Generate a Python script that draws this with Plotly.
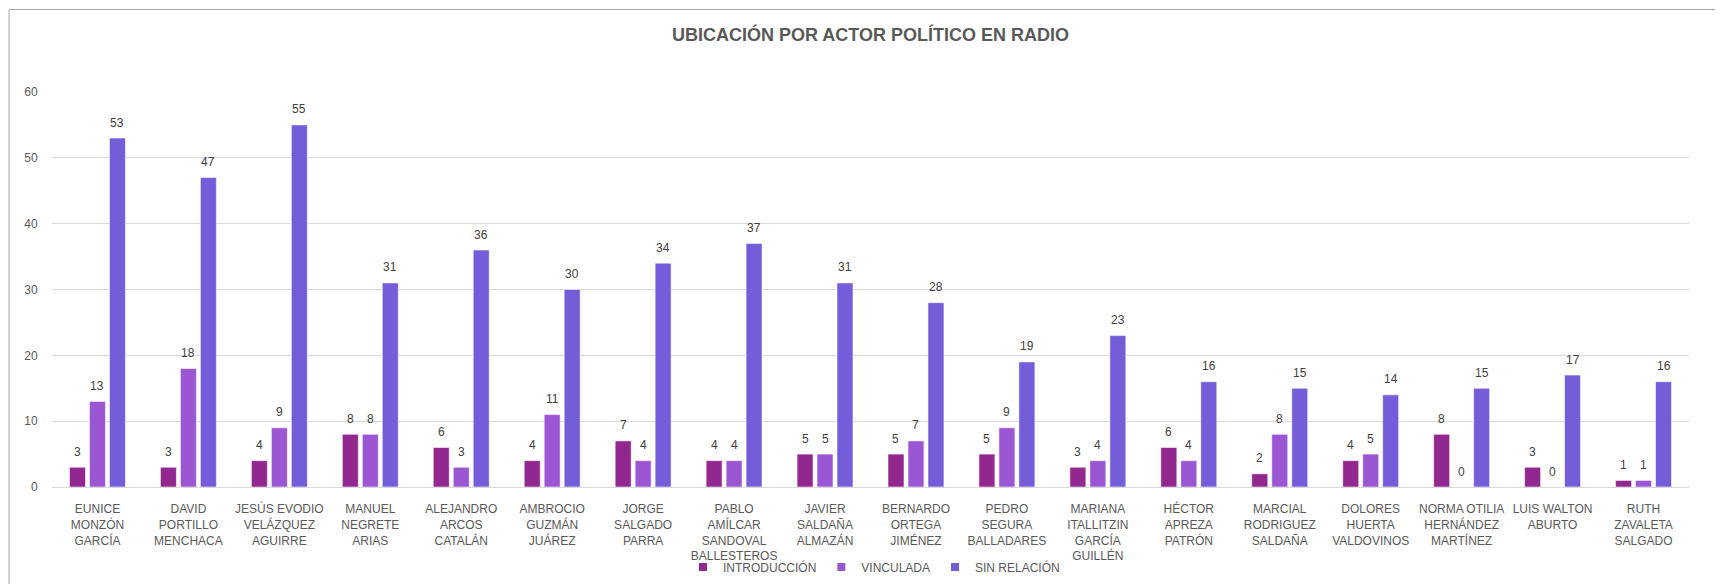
import plotly.graph_objects as go

categories = [
    "EUNICE<br>MONZÓN<br>GARCÍA",
    "DAVID<br>PORTILLO<br>MENCHACA",
    "JESÚS EVODIO<br>VELÁZQUEZ<br>AGUIRRE",
    "MANUEL<br>NEGRETE<br>ARIAS",
    "ALEJANDRO<br>ARCOS<br>CATALÁN",
    "AMBROCIO<br>GUZMÁN<br>JUÁREZ",
    "JORGE<br>SALGADO<br>PARRA",
    "PABLO<br>AMÍLCAR<br>SANDOVAL<br>BALLESTEROS",
    "JAVIER<br>SALDAÑA<br>ALMAZÁN",
    "BERNARDO<br>ORTEGA<br>JIMÉNEZ",
    "PEDRO<br>SEGURA<br>BALLADARES",
    "MARIANA<br>ITALLITZIN<br>GARCÍA<br>GUILLÉN",
    "HÉCTOR<br>APREZA<br>PATRÓN",
    "MARCIAL<br>RODRIGUEZ<br>SALDAÑA",
    "DOLORES<br>HUERTA<br>VALDOVINOS",
    "NORMA OTILIA<br>HERNÁNDEZ<br>MARTÍNEZ",
    "LUIS WALTON<br>ABURTO",
    "RUTH<br>ZAVALETA<br>SALGADO",
]

introduccion = [3, 3, 4, 8, 6, 4, 7, 4, 5, 5, 5, 3, 6, 2, 4, 8, 3, 1]
vinculada = [13, 18, 9, 8, 3, 11, 4, 4, 5, 7, 9, 4, 4, 8, 5, 0, 0, 1]
sin_relacion = [53, 47, 55, 31, 36, 30, 34, 37, 31, 28, 19, 23, 16, 15, 14, 15, 17, 16]

series_names = ["INTRODUCCIÓN", "VINCULADA", "SIN RELACIÓN"]
series_values = [introduccion, vinculada, sin_relacion]
series_colors = ["#92278F", "#9B57D3", "#755DD9"]

y_ticks = [0, 10, 20, 30, 40, 50, 60]

FONT = "Liberation Sans, Arial, sans-serif"
# page has an 8px body margin; figure coords = page coords - 8
W, H = 1715, 576
ML, MR, MT, MB = 43.5, 33.5, 84, 97
PW = W - ML - MR
PH = H - MT - MB

fig = go.Figure()
for name, vals, col in zip(series_names, series_values, series_colors):
    fig.add_trace(go.Bar(
        x=categories, y=vals, name=name,
        marker=dict(color=col, line=dict(color="rgba(255,255,255,0.55)", width=1)),
        showlegend=False,
    ))
    # legend proxies with small square markers
    fig.add_trace(go.Scatter(
        x=[None], y=[None], mode="markers", name=name,
        marker=dict(symbol="square", size=8, color=col),
    ))

# data labels
annotations = []
offsets = [-20, 0, 20]
for vals, dx in zip(series_values, offsets):
    for cat, v in zip(categories, vals):
        annotations.append(dict(
            x=cat, y=v, xref="x", yref="y", text=str(v), showarrow=False,
            xshift=dx, yshift=15.5, yanchor="middle", xanchor="center",
            font=dict(family=FONT, size=12, color="#404040"),
        ))


def px_x(p):
    return (p - ML) / PW


def px_y(p):
    return (H - MB - p) / PH


shapes = [dict(
    type="rect", xref="paper", yref="paper",
    x0=px_x(0.5), x1=px_x(W + 10), y0=px_y(H + 10), y1=px_y(1.5),
    line=dict(color="#a6a6a6", width=1), fillcolor="rgba(0,0,0,0)", layer="below",
)]

fig.update_layout(
    width=W, height=H,
    margin=dict(l=ML, r=MR, t=MT, b=MB, pad=0, autoexpand=False),
    paper_bgcolor="white", plot_bgcolor="white",
    barmode="group", bargap=0.341, bargroupgap=0.2,
    font=dict(family=FONT, size=12, color="#595959"),
    title=dict(
        text="<b>UBICACIÓN POR ACTOR POLÍTICO EN RADIO</b>",
        x=0.5, xref="paper", xanchor="center",
        y=1 - 27 / H, yref="container", yanchor="middle",
        font=dict(family=FONT, size=18, color="#595959"),
    ),
    xaxis=dict(
        type="category", showgrid=False, showline=False, zeroline=False,
        ticks="outside", ticklen=11, tickcolor="rgba(0,0,0,0)",
        tickfont=dict(family=FONT, size=12, color="#595959"),
        tickangle=0, automargin=False,
    ),
    yaxis=dict(
        range=[0, 60], tickvals=y_ticks, showgrid=True, gridcolor="#d9d9d9", gridwidth=1,
        zeroline=True, zerolinecolor="#d9d9d9", zerolinewidth=1, showline=False,
        ticks="outside", ticklen=11, tickcolor="rgba(0,0,0,0)",
        tickfont=dict(family=FONT, size=12, color="#595959"),
        automargin=False,
    ),
    legend=dict(
        orientation="h", x=px_x(866), xanchor="center",
        y=1 - 559 / H, yref="container", yanchor="middle",
        font=dict(family=FONT, size=12, color="#595959"),
        itemwidth=30, bgcolor="rgba(0,0,0,0)",
    ),
    annotations=annotations,
    shapes=shapes,
)

fig.write_html("out.html")
